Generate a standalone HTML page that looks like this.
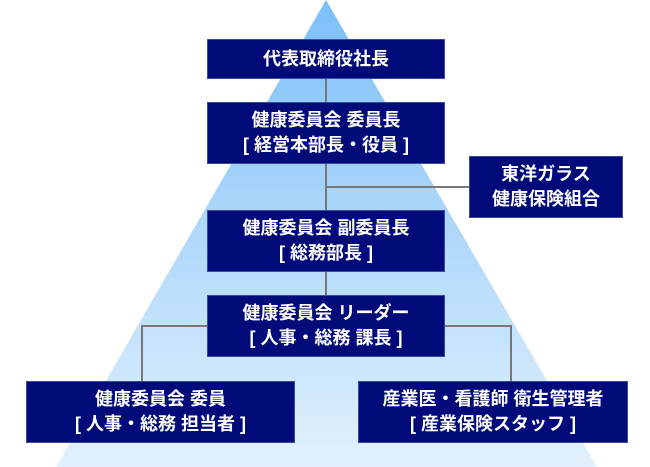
<!DOCTYPE html>
<html><head><meta charset="utf-8"><style>
html,body{margin:0;padding:0;background:#fff;}
body{width:650px;height:467px;position:relative;overflow:hidden;font-family:"Liberation Sans","Noto Sans CJK JP",sans-serif;}
.b{position:absolute;background:#000a78;color:#fff;display:flex;flex-direction:column;align-items:center;justify-content:center;font-size:18px;line-height:25px;font-weight:bold;border:1px solid #3a4a9a;box-sizing:border-box;white-space:nowrap;}
.l{position:absolute;background:#777;}
</style></head><body>
<svg width="650" height="467" style="position:absolute;left:0;top:0">
<defs><linearGradient id="g" x1="0" y1="0" x2="0" y2="1"><stop offset="0" stop-color="#7cbff8"/><stop offset="1" stop-color="#e2f1fd"/></linearGradient></defs>
<polygon points="326,0 597,467 56,467" fill="url(#g)"/>
</svg>
<div class="l" style="left:325px;top:78px;width:2px;height:217px"></div>
<div class="l" style="left:326px;top:186px;width:144px;height:2px"></div>
<div class="l" style="left:141px;top:325px;width:68px;height:2px"></div>
<div class="l" style="left:141px;top:325px;width:2px;height:57px"></div>
<div class="l" style="left:444px;top:325px;width:68px;height:2px"></div>
<div class="l" style="left:510px;top:325px;width:2px;height:57px"></div>
<div class="b" style="left:207px;top:39px;width:238px;height:40px">代表取締役社長</div>
<div class="b" style="left:207px;top:102px;width:238px;height:62px"><div>健康委員会 委員長</div><div>[ 経営本部長・役員 ]</div></div>
<div class="b" style="left:469px;top:156px;width:154px;height:62px"><div>東洋ガラス</div><div>健康保険組合</div></div>
<div class="b" style="left:207px;top:210px;width:238px;height:62px"><div>健康委員会 副委員長</div><div>[ 総務部長 ]</div></div>
<div class="b" style="left:207px;top:295px;width:238px;height:62px"><div>健康委員会 リーダー</div><div>[ 人事・総務 課長 ]</div></div>
<div class="b" style="left:26px;top:381px;width:269px;height:62px"><div>健康委員会 委員</div><div>[ 人事・総務 担当者 ]</div></div>
<div class="b" style="left:358px;top:381px;width:270px;height:62px"><div>産業医・看護師 衛生管理者</div><div>[ 産業保険スタッフ ]</div></div>
</body></html>
